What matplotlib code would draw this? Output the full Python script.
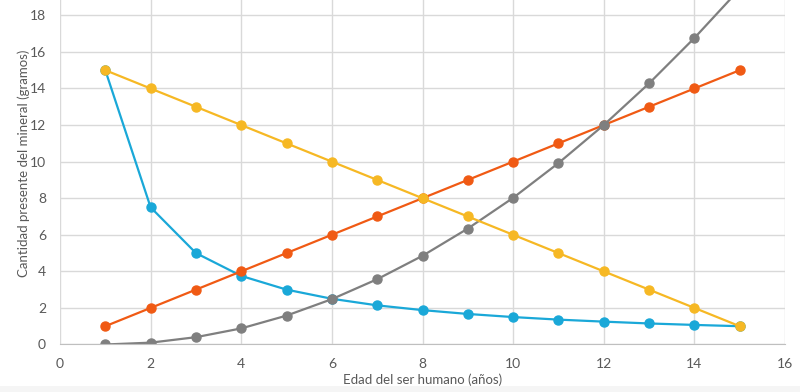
import matplotlib
matplotlib.use("Agg")
import matplotlib.pyplot as plt
from matplotlib.patches import Rectangle

# edades (años) y cantidad de mineral
edad = [1, 2, 3, 4, 5, 6, 7, 8, 9, 10, 11, 12, 13, 14, 15]
azul = [15, 7.5, 5, 3.75, 3, 2.5, 2.14, 1.88, 1.67, 1.5, 1.36, 1.25, 1.15, 1.07, 1.0]
naranja = [1, 2, 3, 4, 5, 6, 7, 8, 9, 10, 11, 12, 13, 14, 15]
gris = [0, 0.1, 0.4, 0.88, 1.58, 2.48, 3.57, 4.85, 6.34, 8.02, 9.92, 12.0, 14.28, 16.76, 19.44]
amarillo = [15, 14, 13, 12, 11, 10, 9, 8, 7, 6, 5, 4, 3, 2, 1]

XTICKS = list(range(0, 17, 2))
YTICKS = list(range(0, 19, 2))

TXT = "#595959"
GRID = "#D9D9D9"

plt.rcParams["font.family"] = ["Lato", "DejaVu Sans"]

fig = plt.figure(figsize=(8, 3.92), dpi=100)
ax = fig.add_axes([0.075, 0.1212, 0.90625, 0.8788])

# franja gris clara al pie de la captura
fig.patches.append(Rectangle((0, 0), 1, 0.016, transform=fig.transFigure,
                             facecolor="#F5F5F5", edgecolor="none", zorder=0))

series = [
    (azul, "#1AA8D8"),
    (naranja, "#F05A14"),
    (gris, "#7F7F7F"),
    (amarillo, "#F6B824"),
]
for vals, col in series:
    ax.plot(edad, vals, color=col, lw=1.6, marker="o", ms=6.5,
            markeredgecolor=col, clip_on=True)

ax.set_xlim(0, 16)
ax.set_ylim(0, 18.84)
ax.set_xticks(XTICKS)
ax.set_yticks(YTICKS)
ax.grid(True, color=GRID, lw=1)
ax.set_axisbelow(True)
for s in ["top", "right", "left"]:
    ax.spines[s].set_visible(False)
ax.spines["bottom"].set_color("#BFBFBF")
ax.tick_params(length=0, colors=TXT, labelsize=10)
ax.tick_params(axis="x", pad=10)
ax.tick_params(axis="y", pad=10)

ax.set_xlabel("Edad del ser humano (años)", color=TXT, fontsize=9.5)
ax.xaxis.set_label_coords(0.5, -0.084)
ax.set_ylabel("Cantidad presente del mineral (gramos)", color=TXT, fontsize=9.5)
ax.yaxis.set_label_coords(-0.042, 0.525)

fig.savefig("out.png", dpi=100)
